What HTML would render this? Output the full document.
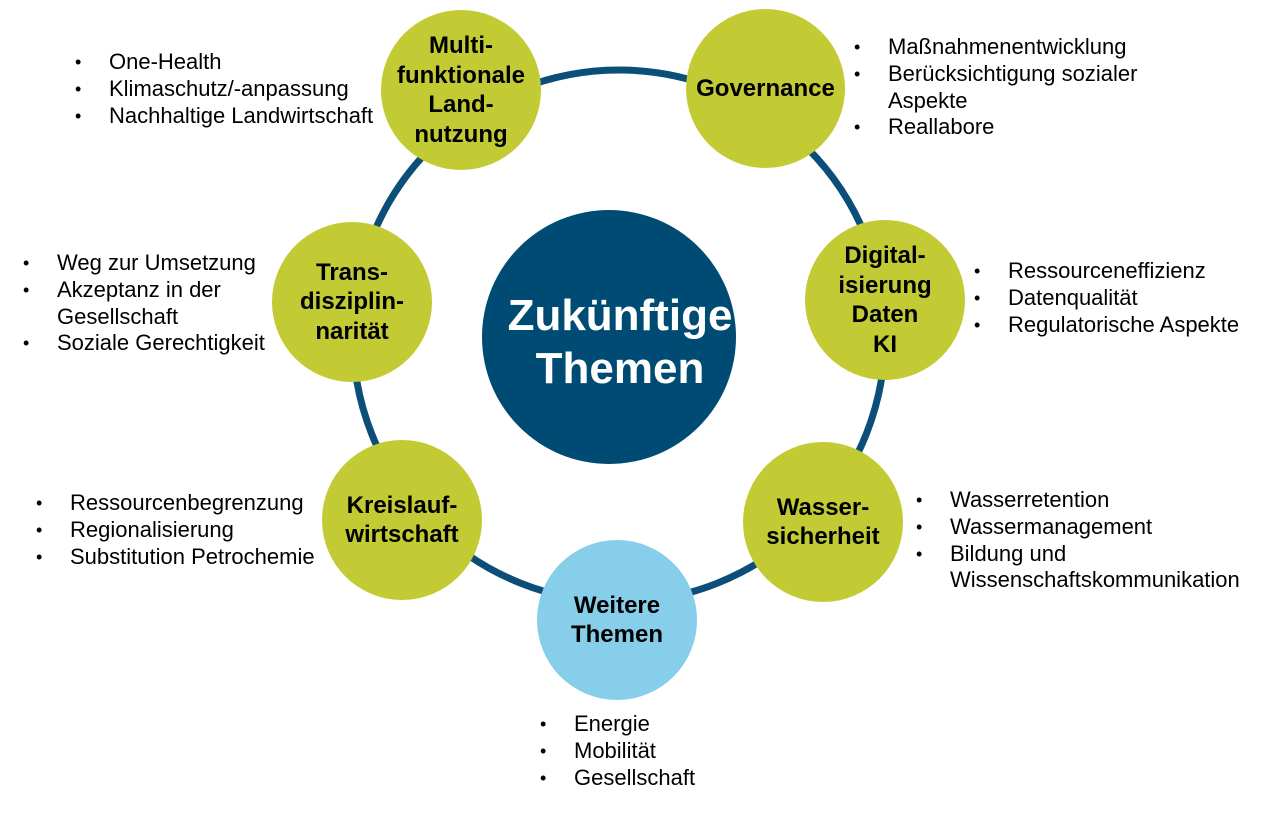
<!DOCTYPE html>
<html><head><meta charset="utf-8"><style>
body{margin:0;width:1267px;height:819px;background:#fff;position:relative;overflow:hidden;font-family:"Liberation Sans",sans-serif}
.c{position:absolute;border-radius:50%;background:#c2cb33;display:flex;align-items:center;justify-content:center;text-align:center;font-weight:bold;font-size:24px;line-height:29.5px;color:#000}
ul{position:absolute;margin:0;padding:0;list-style:none;font-size:22px;line-height:26.8px;color:#000;white-space:nowrap}
li{position:relative;padding-left:36px}
li:before{content:"•";position:absolute;left:2px;font-size:18px}
li.n:before{content:""}
</style></head><body>
<svg width="1267" height="819" style="position:absolute;left:0;top:0">
<circle cx="619" cy="336" r="266" fill="none" stroke="#0b4f78" stroke-width="7"/>
<circle cx="609" cy="337" r="127" fill="#004b74"/>
<text x="620" y="330" fill="#fff" font-family="Liberation Sans" font-weight="bold" font-size="44" text-anchor="middle">Zukünftige</text>
<text x="620" y="383" fill="#fff" font-family="Liberation Sans" font-weight="bold" font-size="44" text-anchor="middle">Themen</text>
</svg>
<div class="c" style="left:381px;top:10px;width:160px;height:160px">Multi-<br>funktionale<br>Land-<br>nutzung</div>
<div class="c" style="left:686px;top:9px;width:159px;height:159px">Governance</div>
<div class="c" style="left:805px;top:220px;width:160px;height:160px">Digital-<br>isierung<br>Daten<br>KI</div>
<div class="c" style="left:743px;top:442px;width:160px;height:160px">Wasser-<br>sicherheit</div>
<div class="c" style="left:537px;top:540px;width:160px;height:160px;background:#87ceeb">Weitere<br>Themen</div>
<div class="c" style="left:322px;top:440px;width:160px;height:160px">Kreislauf-<br>wirtschaft</div>
<div class="c" style="left:272px;top:222px;width:160px;height:160px">Trans-<br>disziplin-<br>narität</div>
<ul style="left:73px;top:49px"><li>One-Health</li><li>Klimaschutz/-anpassung</li><li>Nachhaltige Landwirtschaft</li></ul>
<ul style="left:852px;top:34px"><li>Maßnahmenentwicklung</li><li>Berücksichtigung sozialer</li><li class="n">Aspekte</li><li>Reallabore</li></ul>
<ul style="left:972px;top:258px"><li>Ressourceneffizienz</li><li>Datenqualität</li><li>Regulatorische Aspekte</li></ul>
<ul style="left:914px;top:487px"><li>Wasserretention</li><li>Wassermanagement</li><li>Bildung und</li><li class="n">Wissenschaftskommunikation</li></ul>
<ul style="left:538px;top:711px"><li>Energie</li><li>Mobilität</li><li>Gesellschaft</li></ul>
<ul style="left:34px;top:490px"><li>Ressourcenbegrenzung</li><li>Regionalisierung</li><li>Substitution Petrochemie</li></ul>
<ul style="left:21px;top:250px"><li>Weg zur Umsetzung</li><li>Akzeptanz in der</li><li class="n">Gesellschaft</li><li>Soziale Gerechtigkeit</li></ul>
</body></html>
